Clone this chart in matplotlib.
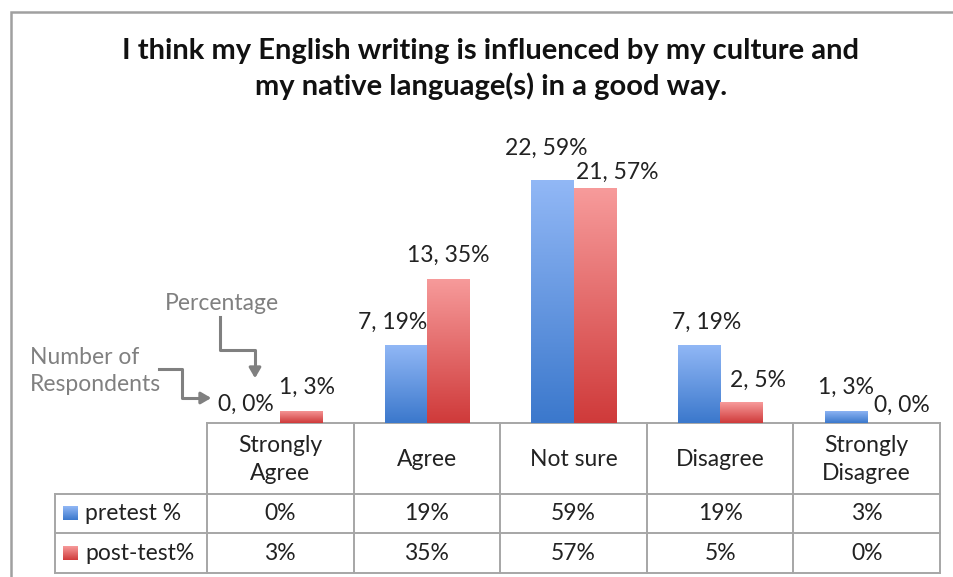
import numpy as np
import matplotlib
matplotlib.use('Agg')
import matplotlib.pyplot as plt
from matplotlib.colors import LinearSegmentedColormap

# survey answers, pre and post
categories = ["Strongly\nAgree", "Agree", "Not sure", "Disagree", "Strongly\nDisagree"]
pre_counts = [0, 7, 22, 7, 1]
pre_pct = [0, 19, 59, 19, 3]
post_counts = [1, 13, 21, 2, 0]
post_pct = [3, 35, 57, 5, 0]
series_names = ["pretest %", "post-test%"]
title = "I think my English writing is influenced by my culture and\nmy native language(s) in a good way."

# label nudges (pixels) from the top centre of each bar
pre_offsets = [(-13, 19), (-13, 22), (-6, 32), (8, 22), (0, 23)]
post_offsets = [(6, 23), (0, 23), (23, 16), (17, 22), (14, 18)]

W, H = 954, 577
FONT = "Lato"
FS = 16.5
GRAY_LINE = "#a6a6a6"
TXT = "#222222"

fig = plt.figure(figsize=(W / 100, H / 100), dpi=100)

# pixel layout of plot area / table
x0, x1 = 207, 940
base_y = 423
px_per_pct = 4.12
ymax = 70

ax = fig.add_axes([x0 / W, (H - base_y) / H, (x1 - x0) / W, ymax * px_per_pct / H])
ax.axis("off")

bw = 0.2865
xs = np.arange(len(categories))
blue_cm = LinearSegmentedColormap.from_list("b", ["#3b78cc", "#92b8f6"])
red_cm = LinearSegmentedColormap.from_list("r", ["#cf3a3a", "#f79b9b"])

grad = np.linspace(0, 1, 256).reshape(-1, 1)
for vals, shift, cm in [(pre_pct, -bw / 2, blue_cm), (post_pct, bw / 2, red_cm)]:
    bars = ax.bar(xs + shift, vals, width=bw, color="none", edgecolor="none")
    for b, v in zip(bars, vals):
        if v == 0:
            continue
        im = ax.imshow(grad, cmap=cm, origin="lower", aspect="auto",
                       extent=[b.get_x(), b.get_x() + b.get_width(), 0, v], zorder=2)
        im.set_clip_path(b)
ax.set_xlim(-0.5, len(categories) - 0.5)
ax.set_ylim(0, ymax)

for vals, cnts, shift, offs in [(pre_pct, pre_counts, -bw / 2, pre_offsets),
                                (post_pct, post_counts, bw / 2, post_offsets)]:
    for i, (v, c) in enumerate(zip(vals, cnts)):
        ax.annotate(f"{c}, {v}%", (i + shift, v), xytext=offs[i], textcoords="offset pixels",
                    ha="center", va="center", fontsize=FS, family=FONT, color=TXT,
                    annotation_clip=False)

# overlay in pixel coordinates for frame, table and notes
ov = fig.add_axes([0, 0, 1, 1], zorder=-1)
ov.axis("off")

ov.plot([11, 11, W], [H, 12, 12], color="#a0a0a0", lw=1.8, solid_joinstyle="miter")

ov.text(W / 2 + 14, 69, title, ha="center", va="center", fontsize=21, weight="bold",
        family=FONT, color="#111111", linespacing=1.35)

# table grid
leg_x = 55
rows = [423, 494, 533, 573]
col_w = (x1 - x0) / len(categories)
cols = [x0 + col_w * i for i in range(len(categories) + 1)]
ov.plot([x0, x1], [rows[0], rows[0]], color=GRAY_LINE, lw=1.4)
for r in rows[1:]:
    ov.plot([leg_x, x1], [r, r], color=GRAY_LINE, lw=1.4)
for c in cols:
    ov.plot([c, c], [rows[0], rows[-1]], color=GRAY_LINE, lw=1.4)
ov.plot([leg_x, leg_x], [rows[1], rows[-1]], color=GRAY_LINE, lw=1.4)

for i, cat in enumerate(categories):
    cx = (cols[i] + cols[i + 1]) / 2
    ov.text(cx, (rows[0] + rows[1]) / 2 + 1, cat, ha="center", va="center", fontsize=FS,
            family=FONT, color=TXT, linespacing=1.45)
    ov.text(cx, (rows[1] + rows[2]) / 2, f"{pre_pct[i]}%", ha="center", va="center",
            fontsize=FS, family=FONT, color=TXT)
    ov.text(cx, (rows[2] + rows[3]) / 2, f"{post_pct[i]}%", ha="center", va="center",
            fontsize=FS, family=FONT, color=TXT)

for k, (name, cm) in enumerate(zip(series_names, [blue_cm, red_cm])):
    ry = (rows[k + 1] + rows[k + 2]) / 2
    ov.imshow(grad[::-1], cmap=cm, aspect="auto", extent=[63, 78, ry + 7, ry - 7], zorder=2)
    ov.text(85, ry, name, ha="left", va="center", fontsize=FS, family=FONT, color=TXT)
ov.set_xlim(0, W)
ov.set_ylim(H, 0)

# callouts explaining the label format
NOTE = "#808080"
ov.text(222, 304, "Percentage", ha="center", va="center", fontsize=FS, family=FONT, color=NOTE)
ov.text(30, 371, "Number of\nRespondents", ha="left", va="center", fontsize=FS, family=FONT,
        color=NOTE, linespacing=1.4)
ov.plot([220, 220, 255, 255], [317, 350, 350, 368], color=NOTE, lw=2.2)
ov.annotate("", xy=(255, 381), xytext=(255, 366),
            arrowprops=dict(arrowstyle="-|>,head_width=0.35,head_length=0.6", color=NOTE, lw=2.2))
ov.plot([159, 182, 182, 200], [369, 369, 398, 398], color=NOTE, lw=2.2)
ov.annotate("", xy=(214, 398), xytext=(198, 398),
            arrowprops=dict(arrowstyle="-|>,head_width=0.35,head_length=0.6", color=NOTE, lw=2.2))

fig.savefig("out.png", dpi=100, facecolor="white")
